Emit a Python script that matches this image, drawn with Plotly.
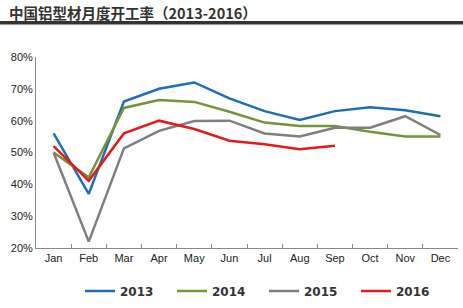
import plotly.graph_objects as go

months = ["Jan", "Feb", "Mar", "Apr", "May", "Jun", "Jul", "Aug", "Sep", "Oct", "Nov", "Dec"]
y2013 = [56, 37, 66, 70, 72, 67, 63, 60.2, 63, 64.2, 63.3, 61.4]
y2014 = [50, 42.2, 64, 66.5, 65.9, 62.8, 59.4, 58.3, 58.3, 56.5, 55, 55]
y2015 = [50, 22, 51.3, 56.8, 59.9, 60, 56, 55, 57.8, 57.8, 61.4, 55.5]
y2016 = [52, 41.1, 56, 60, 57.4, 53.7, 52.6, 51, 52.1]
series = [("2013", y2013, "#1F6DB3"), ("2014", y2014, "#76923C"),
          ("2015", y2015, "#7F7F7F"), ("2016", y2016, "#E31A1C")]
yticks = [20, 30, 40, 50, 60, 70, 80]
title = "中国铝型材月度开工率（2013-2016）"

fig = go.Figure()
for name, vals, col in series:
    fig.add_trace(go.Scatter(x=months[:len(vals)], y=vals, name=name, mode="lines",
                             line=dict(color=col, width=2.5)))

W, H = 463, 308
ml, mr, mt, mb = 36, 5, 57, 60
pw, ph = W - ml - mr, H - mt - mb

def px(x):
    return (x - ml) / pw

def py(y):
    return (H - mb - y) / ph

fig.update_layout(
    width=W, height=H, margin=dict(l=ml, r=mr, t=mt, b=mb, autoexpand=False),
    paper_bgcolor="white", plot_bgcolor="white",
    font=dict(family="Liberation Sans, Arial", size=11, color="#222"),
    showlegend=True,
    legend=dict(orientation="h", x=px(80), xanchor="left", y=py(291), yanchor="middle",
                font=dict(family="DejaVu Sans", size=12, color="#333", weight="bold"),
                itemwidth=30, entrywidth=47, tracegroupgap=0, bgcolor="rgba(0,0,0,0)"),
    xaxis=dict(type="category", categoryorder="array", categoryarray=months,
               range=[-0.5, 11.5], showgrid=False, showline=True, linecolor="#888",
               linewidth=1, ticks="inside", tickson="boundaries", ticklen=4,
               tickcolor="#888", tickfont=dict(size=11, color="#222")),
    yaxis=dict(range=[20, 80], tickvals=yticks, ticktext=[f"{v}%" for v in yticks],
               showgrid=False, showline=True, linecolor="#888", linewidth=1,
               ticks="", zeroline=False, tickfont=dict(size=11, color="#222")),
    shapes=[dict(type="rect", xref="paper", yref="paper", x0=px(0), x1=px(W),
                 y0=py(24.5), y1=py(21), fillcolor="#333", line=dict(width=0))],
    annotations=[dict(text=f"<b>{title}</b>", xref="paper", yref="paper",
                      x=px(7), y=py(12), xanchor="left", yanchor="middle",
                      showarrow=False,
                      font=dict(family="Noto Sans CJK SC", size=14.5, color="#333"))],
)

fig.write_html("out.html")
